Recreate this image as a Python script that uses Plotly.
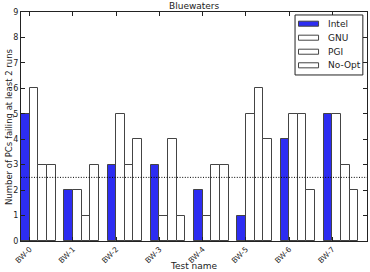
import plotly.graph_objects as go

tests = ["BW-0", "BW-1", "BW-2", "BW-3", "BW-4", "BW-5", "BW-6", "BW-7"]
intel = [5, 2, 3, 3, 2, 1, 4, 5]
gnu = [6, 2, 5, 1, 1, 5, 5, 5]
pgi = [3, 1, 3, 4, 3, 6, 5, 3]
noopt = [3, 3, 4, 1, 3, 4, 2, 2]
threshold = 2.5

series = [("Intel", intel, "#2d2df2"), ("GNU", gnu, "white"),
          ("PGI", pgi, "white"), ("No-Opt", noopt, "white")]
width = 0.2
edge = "#444444"
txt = "#222222"

fig = go.Figure()
for k, (name, vals, col) in enumerate(series):
    fig.add_trace(go.Bar(
        x=[i + width * k + width / 2 for i in range(len(tests))],
        y=vals, width=width, name=name, showlegend=False,
        marker=dict(color=col, line=dict(color=edge, width=1)),
    ))

fig.add_shape(type="line", xref="paper", x0=0, x1=1, yref="y", y0=threshold, y1=threshold,
              line=dict(color="black", width=1, dash="1px,1.6px"))

# legend box drawn in paper coordinates
shapes_legend = [dict(type="rect", xref="paper", yref="paper", x0=0.792, x1=0.988,
                      y0=0.725, y1=0.987, line=dict(color=txt, width=1), fillcolor="white")]
row_y = [0.9489, 0.8878, 0.8266, 0.7672]
annotations = []
for (name, vals, col), yy in zip(series, row_y):
    shapes_legend.append(dict(type="rect", xref="paper", yref="paper", x0=0.802, x1=0.860,
                              y0=yy - 0.011, y1=yy + 0.011, fillcolor=col,
                              line=dict(color=edge, width=1)))
    annotations.append(dict(text=name, xref="paper", yref="paper", x=0.8815, y=yy,
                            xanchor="left", yanchor="middle", showarrow=False,
                            font=dict(family="DejaVu Sans", size=9, color=txt)))
for s in shapes_legend:
    fig.add_shape(**s)

annotations += [
    dict(text="Bluewaters", xref="paper", yref="paper", x=0.5, y=1,
         xanchor="center", yanchor="bottom", showarrow=False, yshift=-1,
         font=dict(family="DejaVu Sans", size=9, color=txt)),
    dict(text="Test name", xref="paper", yref="paper", x=0.5, y=-0.107,
         xanchor="center", yanchor="middle", showarrow=False,
         font=dict(family="DejaVu Sans", size=9, color=txt)),
    dict(text="Number of PCs failing at least 2 runs", xref="paper", yref="paper",
         x=-0.036, y=0.5, textangle=-90, xanchor="center", yanchor="middle",
         showarrow=False, font=dict(family="DejaVu Sans", size=8.5, color=txt)),
]

fig.update_layout(
    width=370, height=272,
    margin=dict(l=21, r=3, t=12, b=31),
    paper_bgcolor="white", plot_bgcolor="white",
    font=dict(family="DejaVu Sans", size=8.5, color=txt),
    barmode="overlay", bargap=0, showlegend=False,
    annotations=annotations,
)
fig.update_xaxes(range=[0, 8], tickvals=[i + 0.2 for i in range(len(tests))], ticktext=tests,
                 tickangle=-45, ticks="inside", ticklen=4, tickcolor=txt,
                 showline=True, linecolor=txt, linewidth=1, mirror="allticks",
                 showgrid=False, zeroline=False, automargin=False,
                 tickfont=dict(family="DejaVu Sans", size=7.5, color=txt))
fig.update_yaxes(range=[0, 9], dtick=1, ticks="inside", ticklen=4, tickcolor=txt,
                 showline=True, linecolor=txt, linewidth=1, mirror="allticks",
                 showgrid=False, zeroline=False, automargin=False,
                 tickfont=dict(family="DejaVu Sans", size=8, color=txt))

fig.write_html("out.html")
